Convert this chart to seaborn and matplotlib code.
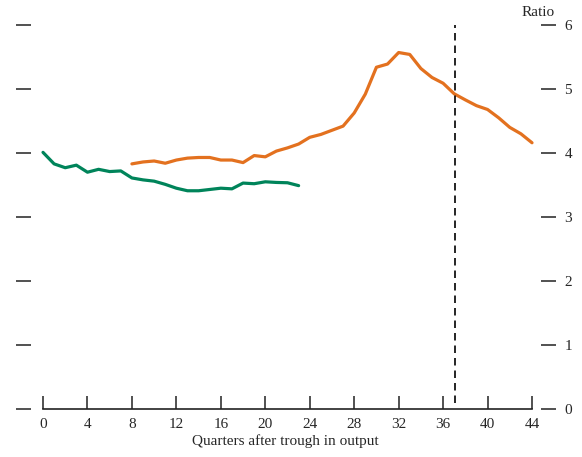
import numpy as np
import pandas as pd
import matplotlib
matplotlib.use("Agg")
import matplotlib.pyplot as plt
import seaborn as sns

# Data
green_q = list(range(0, 24))
green_v = [4.01, 3.83, 3.77, 3.81, 3.70, 3.745, 3.71, 3.72, 3.61, 3.58, 3.56, 3.51,
           3.45, 3.41, 3.41, 3.43, 3.45, 3.44, 3.53, 3.52, 3.55, 3.54, 3.535, 3.49]
orange_q = list(range(8, 45))
orange_v = [3.83, 3.86, 3.875, 3.84, 3.89, 3.92, 3.93, 3.93, 3.89, 3.89, 3.85, 3.96,
            3.94, 4.03, 4.08, 4.14, 4.245, 4.29, 4.355, 4.42, 4.625, 4.92, 5.34, 5.39,
            5.57, 5.54, 5.32, 5.18, 5.09, 4.925, 4.83, 4.74, 4.68, 4.55, 4.40, 4.30, 4.16]
vline_q = 37.1
x_ticks = list(range(0, 45, 4))
y_ticks = [0, 1, 2, 3, 4, 5, 6]

sns.set_style("white")
plt.rcParams['font.family'] = ['Liberation Serif', 'DejaVu Serif']

df = pd.concat([
    pd.DataFrame({"q": green_q, "v": green_v, "s": "green"}),
    pd.DataFrame({"q": orange_q, "v": orange_v, "s": "orange"}),
])

fig = plt.figure(figsize=(5.82, 4.57), dpi=100)
ax = fig.add_axes([15.5 / 582, 48 / 457, (556 - 15.5) / 582, (409 - 25) / 457])

sns.lineplot(data=df, x="q", y="v", hue="s",
             palette={"green": "#00845A", "orange": "#E3711F"},
             linewidth=2.3, legend=False, ax=ax)
ax.plot([vline_q, vline_q], [0.1, 6.0], color="black", lw=1.2,
        linestyle=(0, (4.5, 3)))

ax.set_xlim((15.5 - 43) / 11.114, (556 - 43) / 11.114)
ax.set_ylim(0, 6)

for s in ["top", "left", "right"]:
    ax.spines[s].set_visible(False)
ax.spines["bottom"].set_bounds(0, 44)
ax.spines["bottom"].set_linewidth(1.2)
ax.spines["bottom"].set_color("#222222")

ax.set_xticks(x_ticks)
ax.set_yticks(y_ticks)
ax.tick_params(axis="x", direction="in", length=9.5, width=1.1, color="#222222",
               pad=6.5, labelsize=11, bottom=True)
ax.tick_params(axis="y", direction="in", length=10.5, width=1.2, color="#333333",
               left=True, right=True, labelleft=False, labelright=True,
               pad=6, labelsize=11)

ax.set_xlabel("Quarters after trough in output", fontsize=11, labelpad=2)
ax.set_ylabel("")
fig.text(538 / 582, 1 - 12 / 457, "Ratio", ha="center", va="center", fontsize=11)

fig.savefig("out.png", dpi=100)
